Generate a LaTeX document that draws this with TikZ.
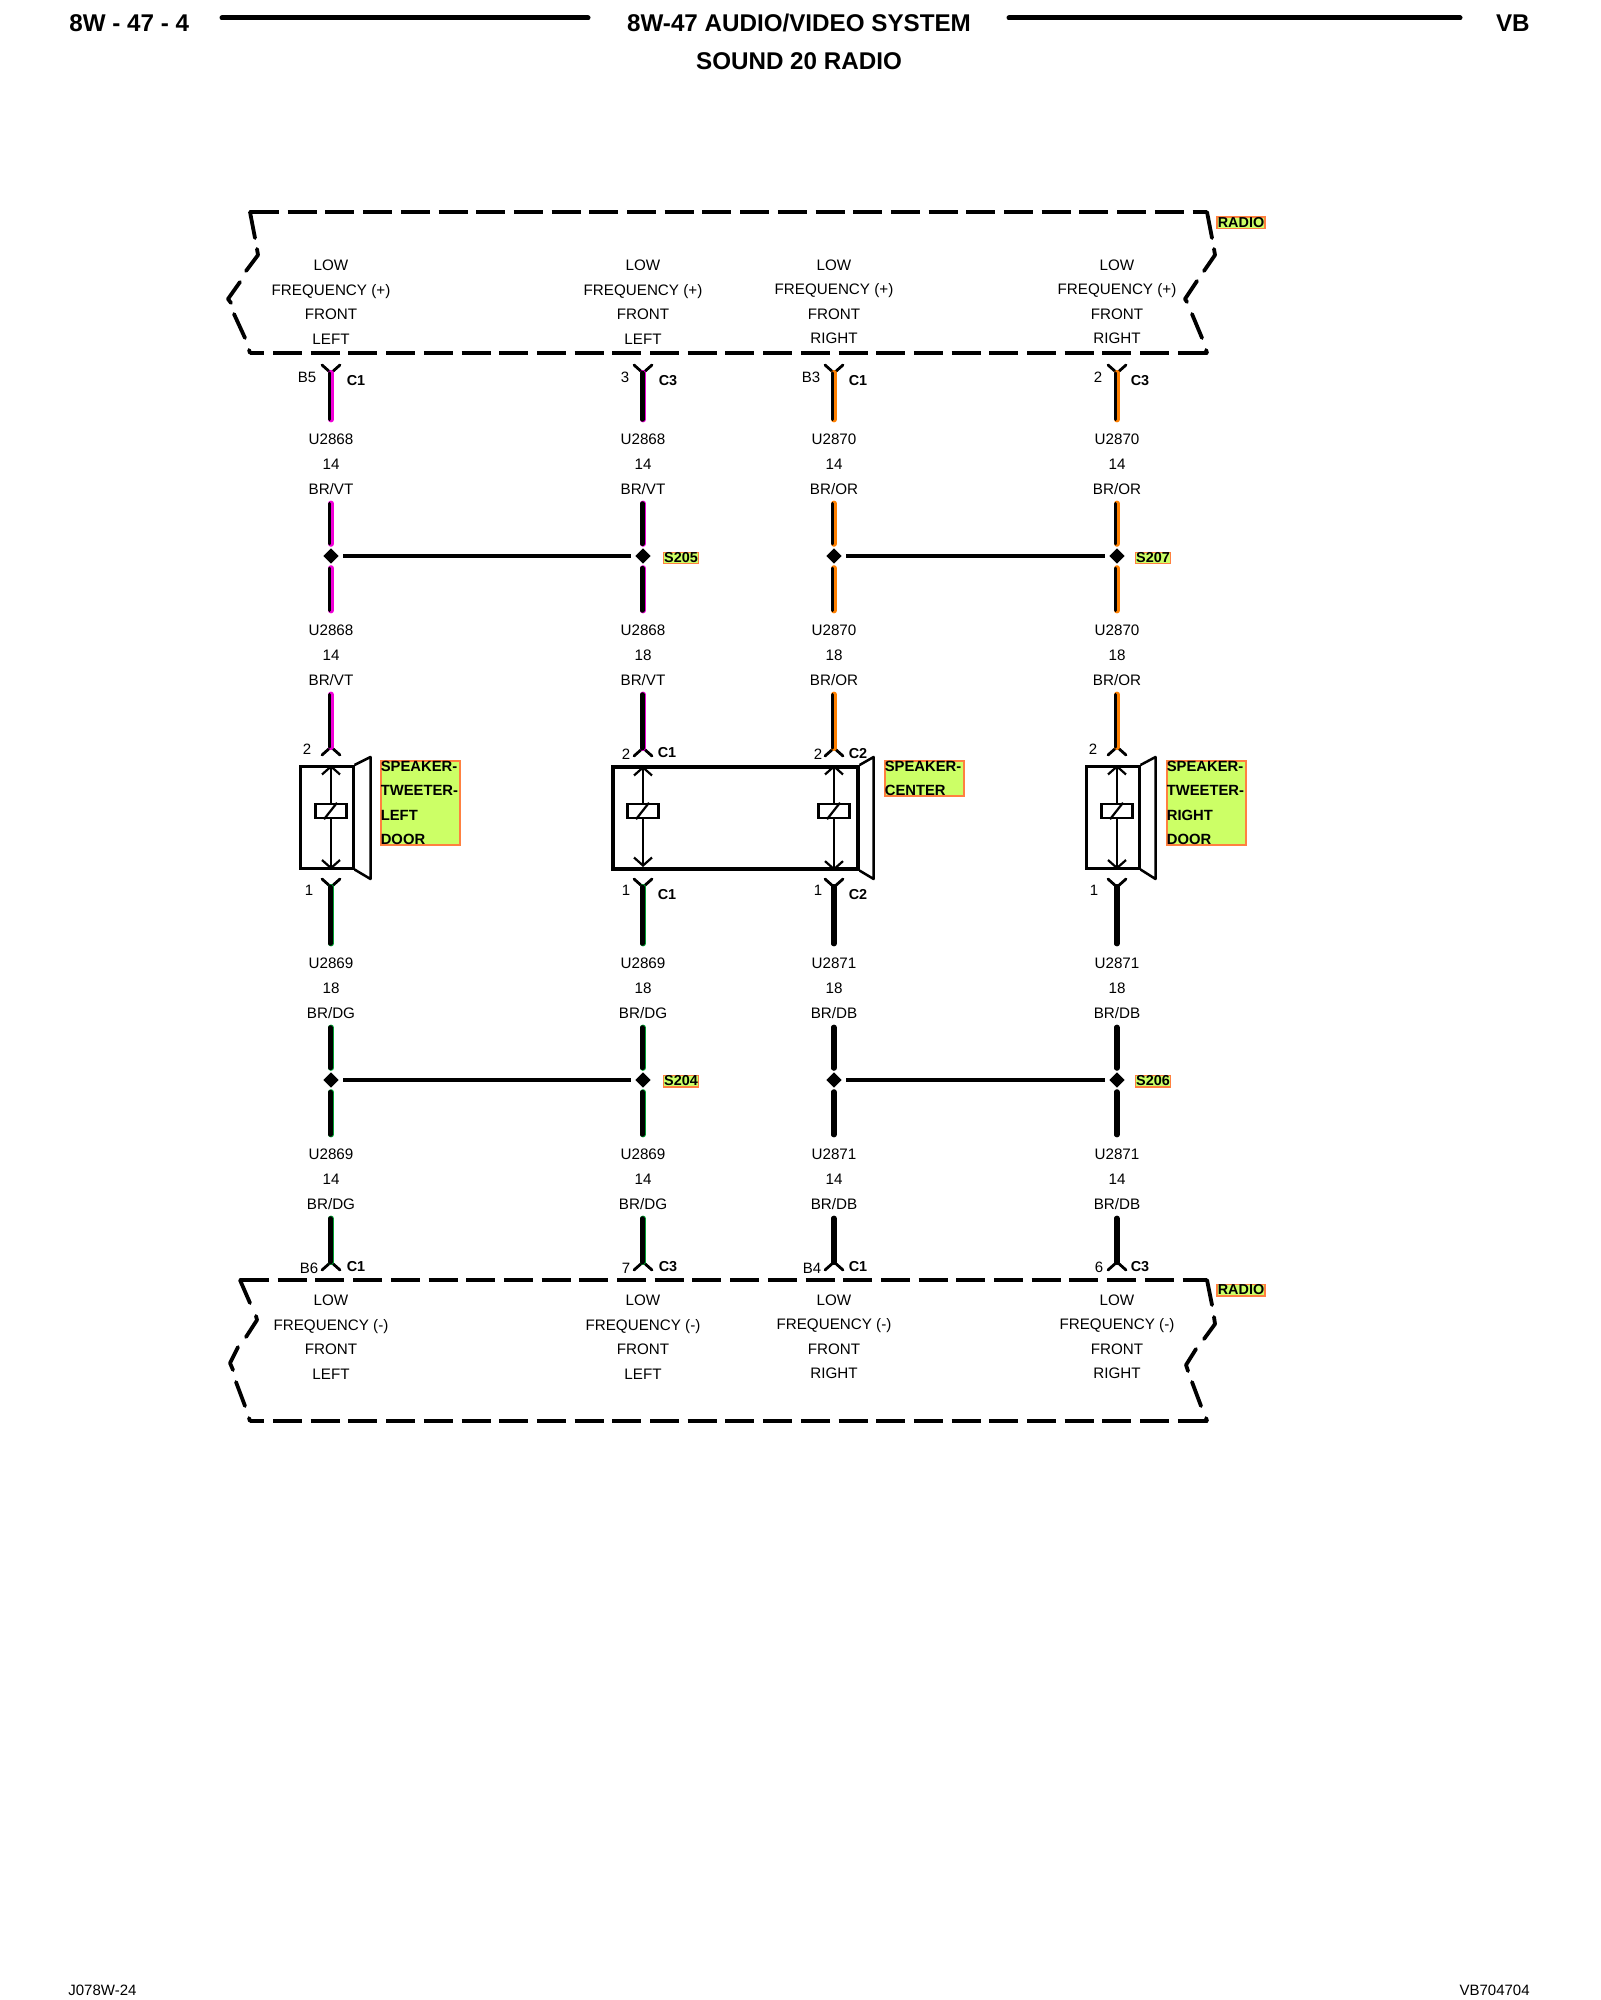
\documentclass[tikz,border=0pt]{standalone}
\usepackage{fontspec}
\setmainfont{Liberation Sans}
\usetikzlibrary{shapes.geometric,arrows.meta}
\definecolor{tagfill}{HTML}{CCFF66}
\definecolor{tagedge}{HTML}{FF8040}
\definecolor{wirevt}{HTML}{F000D8}
\definecolor{wiredg}{HTML}{00A030}
\definecolor{wireor}{HTML}{FF8000}

\begin{document}
\begin{tikzpicture}[x=0.5pt,y=-0.5pt,
  title/.style={font=\fontsize{12.1}{14}\selectfont\bfseries,inner sep=0},
  foot/.style={font=\fontsize{7.5}{9}\selectfont,inner sep=0},
  rule/.style={line width=2.5pt,line cap=round},
  boxline/.style={line width=2.25pt,dash pattern=on 14.5pt off 4.35pt},
  sideline/.style={line width=1.9pt,line cap=round,line join=round},
  pinline/.style={line width=1.4pt,line cap=round,line join=round},
  radiotext/.style={align=center,inner sep=0,font=\fontsize{7.6}{12.25}\selectfont},
  wirelabel/.style={align=center,inner sep=4.5pt,font=\fontsize{7.6}{12.4}\selectfont},
  pinlabel/.style={inner sep=0,font=\fontsize{7.5}{9}\selectfont},
  conn/.style={inner sep=0,font=\fontsize{7.2}{9}\selectfont\bfseries},
  joint/.style={diamond,fill=black,minimum size=9pt,inner sep=0,outer sep=1.6pt},
  tie/.style={line width=2pt},
  wire/.style={draw=#1,line width=3pt,line cap=round,postaction={draw=black,line width=1.7pt,transform canvas={xshift=-.65pt}}},
  slim/.style={draw=#1,line width=3pt,line cap=round,postaction={draw=black,line width=2.3pt,transform canvas={xshift=-.35pt}}},
  tag/.style={fill=tagfill,draw=tagedge,line width=.8pt,inner sep=0,anchor=north west,align=left,text width=39.5pt,font=\fontsize{7.4}{12.2}\selectfont\bfseries},
  flag/.style={fill=tagfill,draw=tagedge,line width=.6pt,inner sep=.4pt,font=\fontsize{7.2}{9}\selectfont\bfseries},
  cab/.style={draw,line width=1.25pt,inner sep=0,anchor=north west,minimum height=51pt},
  coil/.style={draw,line width=1.25pt,inner sep=0,minimum width=15.5pt,minimum height=7pt},
  rod/.style={line width=1.1pt,-{Straight Barb[length=4pt,width=9pt]}},
  ytop/.pic={\draw[pinline] (-9,-8) -- (0,0) -- (9,-8);},
  ybot/.pic={\draw[pinline] (-9,8) -- (0,0) -- (9,8);}]
\useasboundingbox (0,0) rectangle (1600,2000);

% header and footer
\node[title,anchor=west] (page) at (69,23) {8W - 47 - 4};
\node[title] (head) at (799,23) {8W-47 AUDIO/VIDEO SYSTEM};
\node[title] (sub) at (799,61) {SOUND 20 RADIO};
\node[title,anchor=east] (vb) at (1530,23) {VB};
\coordinate (ra) at (222,18);
\coordinate (rb) at (588,18);
\coordinate (rc) at (1009,18);
\coordinate (rd) at (1460,18);
\draw[rule] (ra) -- (rb);
\draw[rule] (rc) -- (rd);
\node[foot,anchor=west] (fl) at (68,1990) {J078W-24};
\node[foot,anchor=east] (fr) at (1530,1990) {VB704704};

% radio, top
\draw[boxline] (250,212) -- (1207,212);
\draw[boxline,dash phase=7.35pt] (250,353) -- (1208,353);
\draw[sideline] (250,212) -- (255,238) (257,249) -- (258,255) -- (246,271) (240,282) -- (228,299) -- (231,303) (234,314) -- (245,338) (249,350) -- (250,353);
\draw[sideline] (1207,212) -- (1212,238) (1214,249) -- (1215,255) -- (1204,271) (1197,281) -- (1185,299) -- (1187,302) (1192,314) -- (1202,338) (1206,350) -- (1207,353);
\node[flag] (radioa) at (1241,223) {RADIO};
\node[radiotext] (ra1) at (331,302) {LOW\\FREQUENCY (+)\\FRONT\\LEFT};
\node[radiotext] (ra2) at (643,302) {LOW\\FREQUENCY (+)\\FRONT\\LEFT};
\node[radiotext] (ra3) at (834,302) {LOW\\FREQUENCY (+)\\FRONT\\RIGHT};
\node[radiotext] (ra4) at (1117,302) {LOW\\FREQUENCY (+)\\FRONT\\RIGHT};

% radio, bottom
\draw[boxline] (240,1280) -- (1207,1280);
\draw[boxline,dash phase=7.35pt] (250,1421) -- (1208,1421);
\draw[sideline] (240,1280) -- (250,1303) (256,1316) -- (257,1320) -- (246,1337) (238,1347) -- (230,1363) -- (233,1370) (236,1382) -- (245,1406) (249,1418) -- (250,1421);
\draw[sideline] (1207,1280) -- (1212,1305) (1214,1317) -- (1215,1324) -- (1204,1339) (1196,1349) -- (1186,1365) -- (1188,1371) (1192,1382) -- (1201,1406) (1206,1418) -- (1207,1421);
\node[flag] (radiob) at (1241,1290) {RADIO};
\node[radiotext] (rb1) at (331,1337) {LOW\\FREQUENCY (-)\\FRONT\\LEFT};
\node[radiotext] (rb2) at (643,1337) {LOW\\FREQUENCY (-)\\FRONT\\LEFT};
\node[radiotext] (rb3) at (834,1337) {LOW\\FREQUENCY (-)\\FRONT\\RIGHT};
\node[radiotext] (rb4) at (1117,1337) {LOW\\FREQUENCY (-)\\FRONT\\RIGHT};

% column 1
\coordinate (pa1) at (331,373);
\coordinate (pb1) at (331,747);
\coordinate (pc1) at (331,887);
\coordinate (pd1) at (331,1262);
\pic at (pa1) {ytop};
\pic at (pb1) {ybot};
\pic at (pc1) {ytop};
\pic at (pd1) {ybot};
\node[wirelabel] (wa1) at (331,464) {U2868\\14\\BR/VT};
\node[wirelabel] (wb1) at (331,655) {U2868\\14\\BR/VT};
\node[wirelabel] (wc1) at (331,988) {U2869\\18\\BR/DG};
\node[wirelabel] (wd1) at (331,1179) {U2869\\14\\BR/DG};
\node[joint] (ja1) at (331,556) {};
\node[joint] (jb1) at (331,1080) {};
\draw[wire=wirevt,shorten >=2.5pt] (pa1) -- (wa1.north);
\draw[wire=wirevt] (wa1.south) -- (ja1.north);
\draw[wire=wirevt,shorten >=2.5pt] (ja1.south) -- (wb1.north);
\draw[wire=wirevt] (wb1.south) -- (pb1);
\draw[slim=wiredg,shorten >=2.5pt] (pc1) -- (wc1.north);
\draw[slim=wiredg] (wc1.south) -- (jb1.north);
\draw[slim=wiredg,shorten >=2.5pt] (jb1.south) -- (wd1.north);
\draw[slim=wiredg] (wd1.south) -- (pd1);
\node[pinlabel] (na1) at (307,377) {B5};
\node[conn] (ca1) at (356,381) {C1};
\node[pinlabel] (nb1) at (307,749) {2};
\node[pinlabel] (nc1) at (309,890) {1};
\node[pinlabel] (nd1) at (309,1268) {B6};
\node[conn] (cd1) at (356,1267) {C1};
\node[cab,minimum width=26.5pt] (spk1) at (299,765) {};
\node[coil] (coil1) at (331,811) {};
\draw[rod] (coil1.north) -- (coil1 |- spk1.north);
\draw[rod] (coil1.south) -- (coil1 |- spk1.south);
\draw[line width=1.1pt] ([xshift=-3.5pt]coil1.south) -- ([xshift=3pt]coil1.north);
\draw[line width=1.25pt,line join=round] (spk1.north east) -- ++(16,-8) -- ++(0,122) -- (spk1.south east);
\node[tag,minimum height=42pt] (lab1) at (380,760) {SPEAKER-\\TWEETER-\\LEFT\\DOOR};

% column 2
\coordinate (pa2) at (643,373);
\coordinate (pb2) at (643,748);
\coordinate (pc2) at (643,887);
\coordinate (pd2) at (643,1262);
\pic at (pa2) {ytop};
\pic at (pb2) {ybot};
\pic at (pc2) {ytop};
\pic at (pd2) {ybot};
\node[wirelabel] (wa2) at (643,464) {U2868\\14\\BR/VT};
\node[wirelabel] (wb2) at (643,655) {U2868\\18\\BR/VT};
\node[wirelabel] (wc2) at (643,988) {U2869\\18\\BR/DG};
\node[wirelabel] (wd2) at (643,1179) {U2869\\14\\BR/DG};
\node[joint] (ja2) at (643,556) {};
\node[joint] (jb2) at (643,1080) {};
\draw[slim=wirevt,shorten >=2.5pt] (pa2) -- (wa2.north);
\draw[slim=wirevt] (wa2.south) -- (ja2.north);
\draw[slim=wirevt,shorten >=2.5pt] (ja2.south) -- (wb2.north);
\draw[slim=wirevt] (wb2.south) -- (pb2);
\draw[slim=wiredg,shorten >=2.5pt] (pc2) -- (wc2.north);
\draw[slim=wiredg] (wc2.south) -- (jb2.north);
\draw[slim=wiredg,shorten >=2.5pt] (jb2.south) -- (wd2.north);
\draw[slim=wiredg] (wd2.south) -- (pd2);
\draw[tie] (ja1.east) -- (ja2.west);
\draw[tie] (jb1.east) -- (jb2.west);
\node[pinlabel] (na2) at (625,377) {3};
\node[conn] (ca2) at (668,381) {C3};
\node[pinlabel] (nb2) at (626,754) {2};
\node[conn] (cb2) at (667,753) {C1};
\node[pinlabel] (nc2) at (626,890) {1};
\node[conn] (cc2) at (667,895) {C1};
\node[pinlabel] (nd2) at (626,1268) {7};
\node[conn] (cd2) at (668,1267) {C3};
\node[flag] (sa2) at (681,558) {S205};
\node[flag] (sb2) at (681,1081) {S204};
\node[coil] (coil2) at (643,811) {};
\draw[rod] (coil2.north) -- (coil2 |- 0,766);
\draw[rod] (coil2.south) -- (coil2 |- 0,867);
\draw[line width=1.1pt] ([xshift=-3.5pt]coil2.south) -- ([xshift=3pt]coil2.north);

% column 3
\coordinate (pa3) at (834,373);
\coordinate (pb3) at (834,748);
\coordinate (pc3) at (834,887);
\coordinate (pd3) at (834,1262);
\pic at (pa3) {ytop};
\pic at (pb3) {ybot};
\pic at (pc3) {ytop};
\pic at (pd3) {ybot};
\node[wirelabel] (wa3) at (834,464) {U2870\\14\\BR/OR};
\node[wirelabel] (wb3) at (834,655) {U2870\\18\\BR/OR};
\node[wirelabel] (wc3) at (834,988) {U2871\\18\\BR/DB};
\node[wirelabel] (wd3) at (834,1179) {U2871\\14\\BR/DB};
\node[joint] (ja3) at (834,556) {};
\node[joint] (jb3) at (834,1080) {};
\draw[wire=wireor,shorten >=2.5pt] (pa3) -- (wa3.north);
\draw[wire=wireor] (wa3.south) -- (ja3.north);
\draw[wire=wireor,shorten >=2.5pt] (ja3.south) -- (wb3.north);
\draw[wire=wireor] (wb3.south) -- (pb3);
\draw[slim=black,shorten >=2.5pt] (pc3) -- (wc3.north);
\draw[slim=black] (wc3.south) -- (jb3.north);
\draw[slim=black,shorten >=2.5pt] (jb3.south) -- (wd3.north);
\draw[slim=black] (wd3.south) -- (pd3);
\node[pinlabel] (na3) at (811,377) {B3};
\node[conn] (ca3) at (858,381) {C1};
\node[pinlabel] (nb3) at (818,754) {2};
\node[conn] (cb3) at (858,754) {C2};
\node[pinlabel] (nc3) at (818,890) {1};
\node[conn] (cc3) at (858,895) {C2};
\node[pinlabel] (nd3) at (812,1268) {B4};
\node[conn] (cd3) at (858,1267) {C1};
\node[cab,line width=1.8pt,minimum width=122.5pt] (spk2) at (611,765) {};
\node[coil] (coil3) at (834,811) {};
\draw[rod] (coil3.north) -- (coil3 |- spk2.north);
\draw[rod] (coil3.south) -- (coil3 |- spk2.south);
\draw[line width=1.1pt] ([xshift=-3.5pt]coil3.south) -- ([xshift=3pt]coil3.north);
\draw[line width=1.25pt,line join=round] (spk2.north east) -- ++(14,-8) -- ++(0,122) -- (spk2.south east);
\node[tag,minimum height=17.5pt] (lab2) at (884,760) {SPEAKER-\\CENTER};

% column 4
\coordinate (pa4) at (1117,373);
\coordinate (pb4) at (1117,747);
\coordinate (pc4) at (1117,887);
\coordinate (pd4) at (1117,1262);
\pic at (pa4) {ytop};
\pic at (pb4) {ybot};
\pic at (pc4) {ytop};
\pic at (pd4) {ybot};
\node[wirelabel] (wa4) at (1117,464) {U2870\\14\\BR/OR};
\node[wirelabel] (wb4) at (1117,655) {U2870\\18\\BR/OR};
\node[wirelabel] (wc4) at (1117,988) {U2871\\18\\BR/DB};
\node[wirelabel] (wd4) at (1117,1179) {U2871\\14\\BR/DB};
\node[joint] (ja4) at (1117,556) {};
\node[joint] (jb4) at (1117,1080) {};
\draw[wire=wireor,shorten >=2.5pt] (pa4) -- (wa4.north);
\draw[wire=wireor] (wa4.south) -- (ja4.north);
\draw[wire=wireor,shorten >=2.5pt] (ja4.south) -- (wb4.north);
\draw[wire=wireor] (wb4.south) -- (pb4);
\draw[slim=black,shorten >=2.5pt] (pc4) -- (wc4.north);
\draw[slim=black] (wc4.south) -- (jb4.north);
\draw[slim=black,shorten >=2.5pt] (jb4.south) -- (wd4.north);
\draw[slim=black] (wd4.south) -- (pd4);
\draw[tie] (ja3.east) -- (ja4.west);
\draw[tie] (jb3.east) -- (jb4.west);
\node[pinlabel] (na4) at (1098,377) {2};
\node[conn] (ca4) at (1140,381) {C3};
\node[pinlabel] (nb4) at (1093,749) {2};
\node[pinlabel] (nc4) at (1094,890) {1};
\node[pinlabel] (nd4) at (1099,1267) {6};
\node[conn] (cd4) at (1140,1267) {C3};
\node[flag] (sa4) at (1153,558) {S207};
\node[flag] (sb4) at (1153,1081) {S206};
\node[cab,minimum width=26.5pt] (spk3) at (1085,765) {};
\node[coil] (coil4) at (1117,811) {};
\draw[rod] (coil4.north) -- (coil4 |- spk3.north);
\draw[rod] (coil4.south) -- (coil4 |- spk3.south);
\draw[line width=1.1pt] ([xshift=-3.5pt]coil4.south) -- ([xshift=3pt]coil4.north);
\draw[line width=1.25pt,line join=round] (spk3.north east) -- ++(15,-8) -- ++(0,122) -- (spk3.south east);
\node[tag,minimum height=42pt] (lab3) at (1166,760) {SPEAKER-\\TWEETER-\\RIGHT\\DOOR};
\end{tikzpicture}
\end{document}
